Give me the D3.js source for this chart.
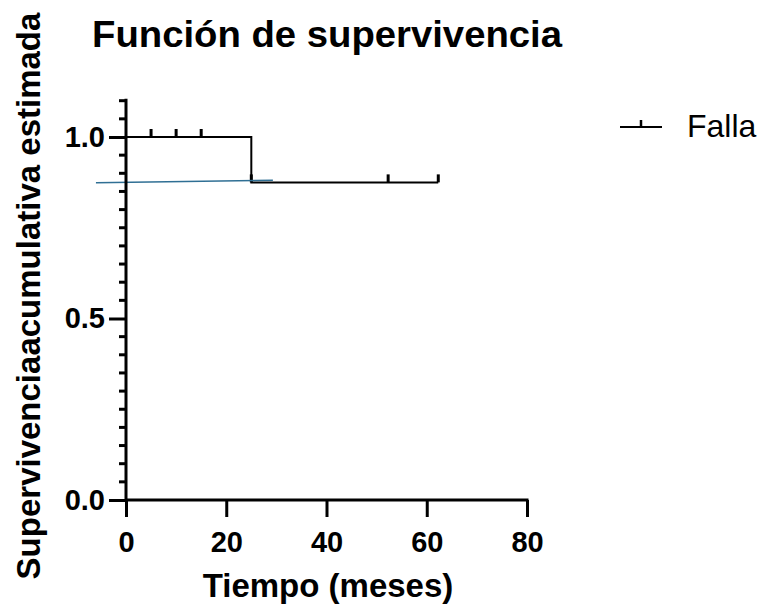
<!DOCTYPE html>
<html><head><meta charset="utf-8">
<script src="https://cdn.jsdelivr.net/npm/d3@7"></script>
<style>body{margin:0;background:#fff}svg{display:block}text{font-family:"Liberation Sans",Arial,sans-serif}</style>
</head><body>
<script>
const titleText = "Función de supervivencia";
const xTitle = "Tiempo (meses)";
const yTitle = "Supervivenciaacumulativa estimada";
const legendLabel = "Falla";
const stepTimes = [0, 25, 62.3];
const stepSurv = [1.0, 0.875, 0.875];
const censorTimes = [5, 10, 15, 25, 52.3, 62.3];
const refLineTimes = [-6.0, 29.3];
const refLineVals = [0.874, 0.8807];
const xTicks = [0, 20, 40, 60, 80];
const yTicks = [0.0, 0.5, 1.0];

const W = 760, H = 605;
const svg = d3.select("body").append("svg").attr("width", W).attr("height", H);
const x = d3.scaleLinear().domain([0, 80]).range([126, 527]);
const y = d3.scaleLinear().domain([0, 1]).range([500, 137]);

// step line
const stepPts = [];
stepTimes.forEach((t, i) => {
  if (i > 0) stepPts.push([t, stepSurv[i - 1]]);
  stepPts.push([t, stepSurv[i]]);
});
const survAt = t => { let s = stepSurv[0]; stepTimes.forEach((tt, i) => { if (t >= tt) s = stepSurv[i]; }); return s; };

svg.append("path").datum(stepPts)
  .attr("d", d3.line().x(d => x(d[0])).y(d => y(d[1])))
  .attr("fill", "none").attr("stroke", "#000").attr("stroke-width", 2);

svg.selectAll(".cens").data(censorTimes).join("line")
  .attr("x1", d => x(d)).attr("x2", d => x(d))
  .attr("y1", d => y(survAt(d))).attr("y2", d => y(survAt(d)) - 8)
  .attr("stroke", "#000").attr("stroke-width", 3);

// stray blue line
svg.append("path").datum(refLineTimes.map((t, i) => [t, refLineVals[i]]))
  .attr("d", d3.line().x(d => x(d[0])).y(d => y(d[1])))
  .attr("fill", "none").attr("stroke", "#2f6f94").attr("stroke-width", 1.5);

// y axis
const yAxis = d3.axisLeft(y).tickValues(yTicks).tickFormat(d3.format(".1f")).tickSize(17).tickPadding(4);
const yg = svg.append("g").attr("transform", "translate(126,0)");
const yMinor = d3.range(0, 1.1001, 0.05).filter(v => Math.abs(v * 2 - Math.round(v * 2)) > 1e-6);
yg.selectAll(".minor").data(yMinor).join("line")
  .attr("x1", -7).attr("x2", 0).attr("y1", d => y(d)).attr("y2", d => y(d))
  .attr("stroke", "#000").attr("stroke-width", 3);
yg.call(yAxis);
yg.select(".domain").remove();
yg.append("line").attr("x1", 0).attr("x2", 0).attr("y1", y(1.1) - 2).attr("y2", 501).attr("stroke", "#000").attr("stroke-width", 3);
yg.selectAll(".tick line").attr("stroke-width", 3);
yg.selectAll(".tick text").attr("font-size", 29).attr("font-weight", "bold").attr("fill", "#000");

// x axis
const xAxis = d3.axisBottom(x).tickValues(xTicks).tickSize(17).tickPadding(14);
const xg = svg.append("g").attr("transform", "translate(0,500)");
xg.call(xAxis);
xg.select(".domain").remove();
xg.append("line").attr("x1", 125).attr("x2", 528.5).attr("y1", 0).attr("y2", 0).attr("stroke", "#000").attr("stroke-width", 3);
xg.selectAll(".tick line").attr("stroke-width", 3);
xg.selectAll(".tick text").attr("font-size", 29).attr("font-weight", "bold").attr("fill", "#000");

// titles
svg.append("text").attr("x", 92).attr("y", 47).attr("font-size", 36).attr("font-weight", "bold")
  .attr("textLength", 470).attr("lengthAdjust", "spacingAndGlyphs").text(titleText);
svg.append("text").attr("x", 328).attr("y", 597).attr("text-anchor", "middle").attr("font-size", 33).attr("font-weight", "bold").text(xTitle);
svg.append("text").attr("transform", "translate(40,296) rotate(-90)").attr("text-anchor", "middle").attr("font-size", 33).attr("font-weight", "bold").text(yTitle);

// legend
const lg = svg.append("g");
lg.append("line").attr("x1", 620).attr("x2", 662).attr("y1", 127).attr("y2", 127).attr("stroke", "#000").attr("stroke-width", 2);
lg.append("line").attr("x1", 641).attr("x2", 641).attr("y1", 127).attr("y2", 120).attr("stroke", "#000").attr("stroke-width", 2.5);
lg.append("text").attr("x", 687).attr("y", 137).attr("font-size", 32).text(legendLabel);
</script>
</body></html>
